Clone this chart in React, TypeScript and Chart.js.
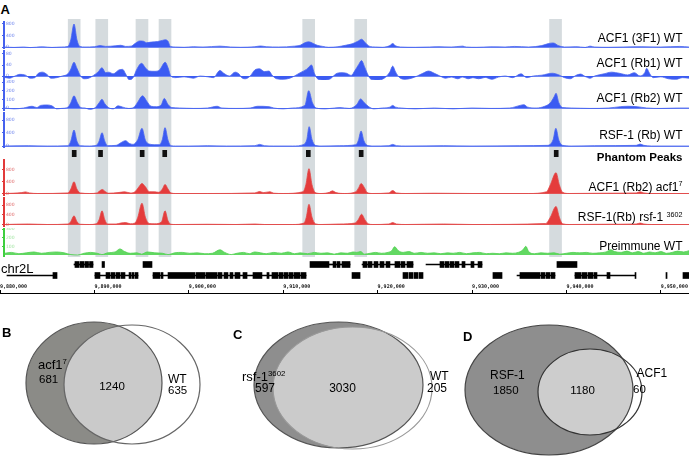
import React, { useEffect, useRef } from "react";
import { Chart, registerables } from "chart.js";
Chart.register(...registerables);

// ---------------- data ----------------
// genomic positions are in kb after 9,880,000 (chr2L)
const AXIS_TICKS_KB = [0, 10, 20, 30, 40, 50, 60, 70];
const AXIS_TICK_LABELS = ["9,880,000", "9,890,000", "9,900,000", "9,910,000", "9,920,000", "9,930,000", "9,940,000", "9,950,000"];
const HIGHLIGHT_BANDS_KB = [7.86, 10.78, 15.04, 17.48, 32.7, 38.21, 58.85];
const PHANTOM_PEAKS_KB = [7.86, 10.65, 15.06, 17.45, 32.66, 38.26, 58.92];

const ACF1_3F1_WT = [[0.5,0],[1.5,-15],[2.5,0],[3.2,-20],[4.5,5],[5.5,-15],[6.5,0],[7.2,20],[7.5,250],[7.84,800],[8.15,250],[8.45,20],[9.0,0],[10.0,10],[10.6,50],[11.2,20],[12.2,40],[12.8,60],[13.3,20],[13.9,30],[14.3,120],[14.8,210],[15.2,200],[15.5,150],[16.0,170],[16.7,190],[17.2,230],[17.5,250],[17.8,200],[18.05,20],[18.6,0],[19.5,-10],[20.5,10],[21.5,0],[23.3,30],[24.4,0],[25.5,-10],[27.0,10],[27.6,35],[28.2,10],[29.5,0],[31.2,30],[31.8,60],[32.3,150],[32.7,180],[33.2,120],[33.6,60],[34.2,20],[34.8,-10],[35.8,10],[36.6,60],[37.3,110],[37.9,200],[38.3,270],[38.7,150],[39.1,30],[39.8,0],[40.5,-10],[41.3,50],[41.6,120],[41.9,40],[42.4,0],[44.0,-10],[45.5,0],[46.5,10],[47.8,0],[49.0,30],[49.4,0],[50.5,-10],[52.0,5],[53.5,0],[54.5,20],[56.0,0],[57.4,50],[58.1,120],[58.6,140],[59.2,40],[59.8,0],[61.0,10],[62.0,-15],[62.5,30],[63.0,0],[64.5,-10],[66.0,0],[68.0,10],[70.0,0],[72.0,20],[73,0]];
const ACF1_RB1_WT = [[0.5,-5],[1.0,-8],[1.6,0],[2.1,6],[2.7,3],[3.2,-8],[3.7,-6],[4.0,8],[4.5,14],[5.0,5],[5.4,-8],[6.0,-6],[6.6,0],[7.2,8],[7.5,25],[7.84,50],[8.15,28],[8.5,2],[8.9,-10],[9.4,-8],[9.9,2],[10.4,15],[10.8,30],[11.2,12],[11.5,14],[12.0,8],[12.6,22],[13.0,24],[13.3,8],[13.7,-14],[14.1,-6],[14.5,25],[15.0,46],[15.4,30],[15.8,18],[16.4,17],[16.9,22],[17.5,50],[17.8,30],[18.1,0],[18.6,-6],[19.5,-3],[20.5,-8],[21.2,0],[22.0,-3],[22.6,-6],[23.3,20],[23.7,10],[24.3,0],[24.9,14],[25.3,8],[25.6,-6],[26.0,-10],[26.5,0],[27.0,22],[27.5,26],[28.0,16],[28.5,18],[28.8,4],[29.3,-10],[30.0,-12],[30.7,-8],[31.2,0],[31.8,12],[32.5,25],[33.0,40],[33.3,10],[33.7,-12],[34.3,-15],[35.0,-10],[35.6,8],[36.1,12],[36.7,10],[37.2,2],[37.6,20],[38.0,42],[38.3,56],[38.6,35],[38.9,10],[39.3,-12],[40.0,-15],[40.7,-8],[41.3,15],[41.6,36],[41.9,15],[42.3,-5],[42.9,-12],[43.6,-8],[44.2,0],[44.8,10],[45.4,18],[46.0,10],[46.6,0],[47.2,-8],[47.8,-4],[48.5,-10],[49.0,-4],[49.6,-10],[50.1,-6],[50.7,-10],[51.4,-5],[52.1,-12],[52.8,-4],[53.5,0],[54.3,-6],[55.2,8],[55.8,-6],[56.5,0],[57.4,3],[58.5,10],[59.2,4],[59.8,-6],[60.4,-10],[61.0,2],[61.5,7],[62.0,-2],[62.5,-8],[63.0,0],[64.0,8],[64.8,14],[65.6,10],[66.5,4],[67.2,12],[67.8,0],[68.3,12],[68.5,28],[68.8,10],[69.2,-6],[70.0,-3],[70.8,-10],[71.6,-12],[72.3,-6],[73,-8]];
const ACF1_RB2_WT = [[0.5,0],[1.5,-10],[2.5,0],[3.4,20],[3.9,5],[4.3,30],[5.0,35],[5.5,25],[6.0,-10],[6.5,-5],[7.2,10],[7.5,60],[7.84,140],[8.2,60],[8.5,10],[9.0,0],[9.5,-15],[10.1,5],[10.5,60],[10.8,100],[11.1,50],[11.5,5],[12.0,-10],[12.5,25],[13.0,10],[13.6,-5],[14.2,10],[14.6,70],[15.1,140],[15.6,70],[16.0,20],[16.6,15],[17.1,40],[17.4,110],[17.8,40],[18.2,5],[19.0,0],[20.5,-5],[22.0,0],[23.0,20],[23.5,0],[25.0,-5],[26.5,0],[27.3,20],[28.5,15],[29.0,0],[30.0,-10],[31.0,0],[32.3,30],[32.7,200],[33.1,60],[33.5,0],[34.5,-10],[36.0,5],[37.0,-5],[37.8,40],[38.2,105],[38.6,60],[39.0,20],[39.6,-10],[40.5,0],[41.3,10],[41.6,30],[41.9,10],[42.5,0],[44.0,-10],[46.0,0],[48.0,-10],[50.0,0],[52.0,-5],[54.0,0],[55.1,30],[55.5,38],[55.9,10],[56.8,0],[57.7,20],[58.3,60],[58.7,130],[58.9,170],[59.2,60],[59.6,5],[60.5,0],[62.5,-5],[64.5,0],[65.7,15],[66.5,20],[67.5,15],[68.5,0],[70.0,-5],[72.0,0],[73,0]];
const RSF1_RB_WT = [[0.5,0],[3,10],[5,0],[7.2,10],[7.5,150],[7.84,490],[8.15,150],[8.5,10],[9.5,0],[10.2,20],[10.5,150],[10.81,410],[11.1,150],[11.4,10],[12.3,20],[12.8,100],[13.3,165],[13.7,80],[14.1,50],[14.6,200],[15.04,545],[15.4,180],[15.8,60],[16.4,40],[16.9,40],[17.2,200],[17.48,565],[17.8,180],[18.1,10],[18.6,0],[20,0],[22,10],[24,0],[27.0,10],[27.5,50],[28.0,10],[29,0],[31,0],[32.2,50],[32.5,200],[32.75,595],[33.05,200],[33.4,20],[34,0],[36,10],[37.7,40],[37.95,160],[38.25,460],[38.55,160],[38.9,20],[39.5,0],[41.2,10],[41.6,50],[42.0,10],[43,0],[47,10],[50,0],[55,10],[58,20],[58.6,200],[58.88,545],[59.2,180],[59.6,20],[60.5,0],[63,10],[67.4,20],[67.8,60],[68.2,20],[69,0],[73,0]];
const ACF1_RB2_ACF1 = [[0.5,0],[2.3,30],[2.7,55],[3.1,20],[4,0],[7.2,20],[7.5,150],[7.84,400],[8.15,150],[8.5,20],[9.5,0],[10.3,20],[10.6,100],[10.85,137],[11.1,80],[11.5,10],[12.5,30],[13.2,57],[13.8,20],[14.3,60],[14.7,220],[15.04,340],[15.4,230],[15.8,60],[16.4,57],[16.8,40],[17.2,150],[17.48,310],[17.8,150],[18.1,20],[18.6,0],[22,0],[27.0,20],[27.5,68],[27.9,30],[28.6,60],[29.0,10],[30,0],[32.1,60],[32.4,300],[32.73,845],[33.05,300],[33.4,30],[34,0],[34.9,40],[35.2,90],[35.6,30],[36.5,0],[37.7,60],[38.0,200],[38.25,340],[38.6,200],[38.9,30],[39.5,0],[41.2,20],[41.6,100],[42.0,20],[43,0],[46,10],[50,0],[56,0],[57.9,60],[58.3,300],[58.9,710],[59.25,300],[59.6,40],[60.3,0],[64,10],[67.4,20],[67.8,60],[68.2,20],[69,0],[73,0]];
const RSF1_RB_RSF1 = [[0.5,0],[3,20],[5,0],[7.2,20],[7.5,120],[7.84,357],[8.15,120],[8.5,10],[9.5,0],[10.2,30],[10.5,200],[10.81,560],[11.1,200],[11.4,20],[12.3,20],[12.8,60],[13.3,80],[13.8,30],[14.3,60],[14.6,300],[15.04,875],[15.4,300],[15.8,40],[16.4,30],[17.1,100],[17.48,560],[17.8,150],[18.1,10],[18.6,0],[22,10],[25,0],[27,20],[28,0],[31,0],[32.2,60],[32.45,300],[32.73,830],[33.05,300],[33.4,30],[34,0],[36,20],[37.6,60],[37.95,200],[38.3,420],[38.65,200],[39.0,30],[39.5,0],[41.2,20],[41.6,80],[42.0,20],[43,0],[47,20],[50,0],[57.8,40],[58.3,300],[58.9,740],[59.25,300],[59.6,30],[60.3,0],[64,10],[67.4,20],[67.8,60],[68.2,20],[69,0],[73,0]];
const PREIMMUNE_WT = [[0.5,20],[1.2,30],[2.0,15],[2.8,25],[3.6,35],[4.4,20],[5.2,30],[6.0,35],[6.8,25],[7.5,5],[8.2,0],[8.9,20],[9.6,30],[10.3,20],[10.8,5],[11.4,25],[12.2,35],[12.7,70],[13.2,40],[13.8,20],[14.5,25],[15.0,10],[15.6,35],[16.4,25],[17.2,20],[17.8,5],[18.5,25],[19.3,30],[20.1,20],[20.9,25],[21.7,15],[22.5,20],[23.3,60],[23.8,30],[24.5,5],[25.1,20],[25.8,30],[26.4,15],[27.0,35],[27.6,25],[28.2,15],[29.0,30],[29.8,20],[30.5,35],[31.2,15],[31.8,25],[32.6,15],[33.3,30],[34.0,20],[34.7,25],[35.4,10],[36.1,25],[36.8,20],[37.4,35],[37.8,30],[38.2,40],[38.6,10],[39.2,20],[39.8,30],[40.4,20],[41.1,30],[41.5,50],[41.8,95],[42.2,50],[42.7,30],[43.3,40],[43.9,20],[44.6,30],[45.3,20],[46.0,25],[46.7,15],[47.4,25],[48.0,20],[48.7,30],[49.4,15],[50.1,25],[50.8,30],[51.5,15],[52.2,20],[52.9,15],[53.6,25],[54.3,20],[54.9,30],[55.4,60],[55.7,100],[56.0,40],[56.6,15],[57.3,25],[58.0,20],[58.7,25],[59.3,10],[60.0,20],[60.7,30],[61.4,25],[62.1,30],[62.8,20],[63.5,25],[64.2,35],[64.7,60],[65.1,40],[65.8,30],[66.4,45],[67.0,25],[67.6,40],[68.2,20],[68.8,35],[69.4,25],[70.0,40],[70.6,20],[71.2,30],[71.8,45],[72.4,35],[73,50]];

const GENE_ROW1_EXONS = [[7.94,8.37],[8.47,8.9],[9.0,9.38],[9.48,9.85],[10.81,11.07],[15.15,16.1],[32.84,34.85],[35.28,35.59],[35.7,36.02],[36.23,37.08],[38.45,38.88],[38.98,39.41],[39.62,40.04],[40.25,40.68],[40.89,41.31],[41.84,42.37],[42.48,42.9],[43.11,43.75],[46.61,47.03],[47.14,47.56],[47.67,48.09],[48.2,48.62],[48.94,49.26],[49.89,50.21],[50.64,51.06],[59.0,61.12]];
const GENE_ROW1_INTRONS = [[7.84,9.85],[34.85,37.08],[38.35,43.75],[45.13,51.06]];
const GENE_ROW2_EXONS = [[5.61,6.04],[10.06,10.59],[11.23,11.65],[11.76,12.18],[12.29,12.71],[12.82,13.24],[13.67,13.88],[13.98,14.19],[14.3,14.62],[16.21,16.95],[17.06,17.27],[17.8,20.65],[20.76,21.72],[21.82,22.99],[23.09,23.52],[23.73,24.15],[24.36,24.68],[24.89,25.42],[25.74,26.17],[26.8,27.75],[28.28,28.5],[28.81,29.45],[29.56,29.98],[30.08,30.51],[30.61,31.04],[31.14,31.78],[31.89,32.42],[37.29,38.14],[42.69,43.22],[43.33,43.75],[43.86,44.28],[44.39,44.81],[52.22,53.18],[55.08,57.2],[57.31,57.73],[57.84,58.26],[58.37,58.79],[60.91,61.55],[61.65,62.18],[62.29,62.82],[62.92,63.24],[64.3,64.62],[67.27,67.37],[70.55,70.66],[72.35,72.99]];
const GENE_ROW2_INTRONS = [[0.74,5.61],[10.06,14.62],[16.21,32.42],[54.77,58.79],[60.91,67.27]];

const VENN_B_COUNTS = [681, 1240, 635];
const VENN_C_COUNTS = [597, 3030, 205];
const VENN_D_COUNTS = [1850, 1180, 60];

// ---------------- layout / style ----------------
const W = 689;
const H = 456;
const PX_PER_KB = 9.44;
const X_MAX = W / PX_PER_KB;
const AXIS_W = 4;
const SANS = '"Liberation Sans", Arial, Helvetica, sans-serif';

const BLUE = { fill: "#3b5bf2", line: "#4a66f0", base: "#7088f2", axis: "#4661ee", tick: "#6f85ee" };
const RED = { fill: "#e43c3c", line: "#e24848", base: "#e26a6a", axis: "#e23a3a", tick: "#e06a6a" };
const GREEN = { fill: "#62d862", line: "#4fcf4f", base: "#6ad66a", axis: "#3fcf3f", tick: "#a5e5a5" };

const TRACKS = [
  { data: ACF1_3F1_WT, col: BLUE, top: 21, h: 28, zero: 47, refY: 24, ref: 800, ticks: [0, 400, 800] },
  { data: ACF1_RB1_WT, col: BLUE, top: 50, h: 30, zero: 76, refY: 54, ref: 80, ticks: [0, 40, 80] },
  { data: ACF1_RB2_WT, col: BLUE, top: 80, h: 31, zero: 108, refY: 82, ref: 300, ticks: [0, 100, 200, 300] },
  { data: RSF1_RB_WT, col: BLUE, top: 112, h: 36, zero: 146, refY: 120, ref: 800, ticks: [0, 400, 800] },
  { data: ACF1_RB2_ACF1, col: RED, top: 159, h: 37, zero: 193.5, refY: 170, ref: 800, ticks: [0, 400, 800] },
  { data: RSF1_RB_RSF1, col: RED, top: 197, h: 30, zero: 224.5, refY: 205, ref: 800, ticks: [0, 400, 800] },
  { data: PREIMMUNE_WT, col: GREEN, top: 228, h: 29, zero: 255, refY: 229, ref: 300, ticks: [100, 200, 300] },
];

const baseOptions = {
  responsive: false,
  animation: false as const,
  events: [] as any[],
  layout: { padding: 0 },
  plugins: { legend: { display: false }, tooltip: { enabled: false } },
};

function trackConfig(t: any) {
  const upp = t.ref / (t.zero - t.refY);
  const bottom = t.top + t.h;
  return {
    type: "line",
    data: {
      datasets: [
        {
          data: t.data.map(([x, y]: number[]) => ({ x, y })),
          borderColor: t.col.line,
          backgroundColor: t.col.fill,
          fill: "origin",
          borderWidth: 0.8,
          pointRadius: 0,
          cubicInterpolationMode: "monotone",
        },
      ],
    },
    options: {
      ...baseOptions,
      scales: {
        x: { type: "linear", display: false, min: AXIS_W / PX_PER_KB, max: X_MAX },
        y: {
          type: "linear",
          position: "left",
          min: -(bottom - t.zero) * upp,
          max: (t.zero - t.top) * upp,
          afterBuildTicks: (a: any) => {
            a.ticks = t.ticks.map((v: number) => ({ value: v }));
          },
          afterFit: (a: any) => {
            a.width = AXIS_W;
            a.paddingTop = 0;
            a.paddingBottom = 0;
          },
          border: { display: true, color: t.col.axis, width: 2 },
          grid: {
            color: (c: any) => (c.tick && c.tick.value === 0 ? t.col.base : "rgba(0,0,0,0)"),
            tickColor: t.col.axis,
            tickLength: 2,
            lineWidth: 1,
          },
          ticks: {
            mirror: true,
            padding: 2,
            autoSkip: false,
            color: t.col.tick,
            font: { size: 4.5, family: "DejaVu Sans" },
          },
        },
      },
    },
  };
}

function bandConfig(centers: number[], thickness: number, color: string) {
  return {
    type: "bar",
    data: {
      datasets: [
        {
          data: centers.map((x) => ({ x, y: 1 })),
          backgroundColor: color,
          barThickness: thickness,
          borderWidth: 0,
          grouped: false,
        },
      ],
    },
    options: {
      ...baseOptions,
      scales: {
        x: { type: "linear", display: false, min: 0, max: X_MAX, offset: false },
        y: { type: "linear", display: false, min: 0, max: 1 },
      },
    },
  };
}

function geneConfig() {
  const rows = (list: number[][], r: string) => list.map(([a, b]) => ({ x: [a, b], y: r }));
  return {
    type: "bar",
    data: {
      labels: ["r1", "r2"],
      datasets: [
        { data: [...rows(GENE_ROW1_INTRONS, "r1"), ...rows(GENE_ROW2_INTRONS, "r2")], backgroundColor: "#000", barThickness: 1, grouped: false, borderWidth: 0 },
        { data: [...rows(GENE_ROW1_EXONS, "r1"), ...rows(GENE_ROW2_EXONS, "r2")], backgroundColor: "#000", barThickness: 6, grouped: false, borderWidth: 0 },
      ],
    },
    options: {
      ...baseOptions,
      indexAxis: "y",
      scales: {
        x: { type: "linear", display: false, min: 0, max: X_MAX, offset: false },
        y: { type: "category", display: false, offset: true },
      },
    },
  };
}

function axisConfig() {
  return {
    type: "line",
    data: { datasets: [] },
    options: {
      ...baseOptions,
      scales: {
        x: {
          type: "linear",
          position: "top",
          min: 0,
          max: X_MAX,
          offset: false,
          afterBuildTicks: (a: any) => {
            a.ticks = AXIS_TICKS_KB.map((v) => ({ value: v }));
          },
          afterFit: (a: any) => {
            a.height = 11;
            a.paddingLeft = 0;
            a.paddingRight = 0;
          },
          border: { display: true, color: "#000", width: 1 },
          grid: { drawOnChartArea: false, tickLength: 3, tickColor: "#000" },
          ticks: {
            align: "start",
            padding: 0,
            autoSkip: false,
            maxRotation: 0,
            color: "#111",
            font: { size: 5, family: "DejaVu Sans Mono", weight: "bold" },
            callback: (_v: any, i: number) => AXIS_TICK_LABELS[i],
          },
        },
        y: { display: false, min: 0, max: 1 },
      },
    },
  };
}

// Venn ellipses: [cx, cy, rx, ry] in panel units
const VENNS = [
  { a: [94, 383, 68, 61], b: [132, 384.5, 68, 59.5], dark: "#8b8b87", light: "#cacaca", sa: "#555", sb: "#666" },
  { a: [338.5, 385, 84.5, 63], b: [352.5, 388, 79.5, 61], dark: "#8e8e8e", light: "#cbcbcb", sa: "#555", sb: "#999" },
  { a: [549, 390, 84, 65], b: [590, 392, 52, 43], dark: "#8e8e8e", light: "#cdcdcd", sa: "#444", sb: "#333" },
];

const vennPlugin = {
  id: "venn",
  beforeDatasetsDraw(chart: any) {
    const { ctx } = chart;
    const sx = chart.scales.x;
    const sy = chart.scales.y;
    const path = (e: number[]) => {
      const cx = sx.getPixelForValue(e[0]);
      const cy = sy.getPixelForValue(e[1]);
      const rx = Math.abs(sx.getPixelForValue(e[0] + e[2]) - cx);
      const ry = Math.abs(sy.getPixelForValue(e[1] + e[3]) - cy);
      ctx.beginPath();
      ctx.ellipse(cx, cy, rx, ry, 0, 0, Math.PI * 2);
    };
    VENNS.forEach((v) => {
      ctx.save();
      path(v.b);
      ctx.fillStyle = "#fff";
      ctx.fill();
      path(v.a);
      ctx.fillStyle = v.dark;
      ctx.fill();
      ctx.save();
      path(v.a);
      ctx.clip();
      path(v.b);
      ctx.fillStyle = v.light;
      ctx.fill();
      ctx.restore();
      ctx.lineWidth = 1.2;
      path(v.a);
      ctx.strokeStyle = v.sa;
      ctx.stroke();
      path(v.b);
      ctx.strokeStyle = v.sb;
      ctx.stroke();
      ctx.restore();
    });
  },
};

function vennConfig() {
  return {
    type: "scatter",
    data: { datasets: [{ data: [] }] },
    options: {
      ...baseOptions,
      scales: {
        x: { type: "linear", display: false, min: 0, max: W },
        y: { type: "linear", display: false, min: 300, max: H, reverse: true },
      },
    },
    plugins: [vennPlugin],
  };
}

function ChartCanvas({ left, top, width, height, make }: { left: number; top: number; width: number; height: number; make: () => any }) {
  const ref = useRef<HTMLCanvasElement>(null);
  useEffect(() => {
    const chart = new Chart(ref.current as HTMLCanvasElement, make());
    return () => chart.destroy();
  }, []);
  return <canvas ref={ref} width={width} height={height} style={{ position: "absolute", left, top, width, height }} />;
}

function Txt({ x, y, size, bold, align = "left", children }: any) {
  const style: any = {
    position: "absolute",
    top: y - 0.49 * size,
    fontSize: size,
    lineHeight: `${size}px`,
    fontWeight: bold ? 700 : 400,
    whiteSpace: "nowrap",
    color: "#000",
    fontFamily: SANS,
  };
  if (align === "left") style.left = x;
  else if (align === "right") style.right = W - x;
  else {
    style.left = x;
    style.transform = "translateX(-50%)";
  }
  return <div style={style}>{children}</div>;
}

const Sup = ({ children }: any) => (
  <span style={{ fontSize: "0.6em", position: "relative", top: "-0.6em" }}>{children}</span>
);

export default function App() {
  return (
    <div style={{ position: "absolute", left: 0, top: 0, width: W, height: H, background: "#fff", overflow: "hidden", fontFamily: SANS }}>
      <ChartCanvas left={0} top={19} width={W} height={238} make={() => bandConfig(HIGHLIGHT_BANDS_KB, 12, "#d5dbde")} />
      {TRACKS.map((t, i) => (
        <ChartCanvas key={i} left={0} top={t.top} width={W} height={t.h} make={() => trackConfig(t)} />
      ))}
      <ChartCanvas left={0} top={150} width={W} height={7} make={() => bandConfig(PHANTOM_PEAKS_KB, 4, "#111")} />
      <ChartCanvas left={0} top={259} width={W} height={22} make={geneConfig} />
      <ChartCanvas left={0} top={282} width={W} height={14} make={axisConfig} />
      <ChartCanvas left={0} top={300} width={W} height={156} make={vennConfig} />

      <Txt x={0.5} y={9} size={13} bold>A</Txt>
      <Txt x={682.5} y={38} size={12} align="right">ACF1 (3F1) WT</Txt>
      <Txt x={682.5} y={63} size={12} align="right">ACF1 (Rb1) WT</Txt>
      <Txt x={682.5} y={98} size={12} align="right">ACF1 (Rb2) WT</Txt>
      <Txt x={682.5} y={135} size={12} align="right">RSF-1 (Rb) WT</Txt>
      <Txt x={682.5} y={158} size={11.5} bold align="right">Phantom Peaks</Txt>
      <Txt x={682.5} y={186.5} size={12} align="right">ACF1 (Rb2) acf1<Sup>7</Sup></Txt>
      <Txt x={682.5} y={217} size={12} align="right">RSF-1(Rb) rsf-1 <Sup>3602</Sup></Txt>
      <Txt x={682.5} y={245.5} size={12} align="right">Preimmune WT</Txt>
      <Txt x={1} y={268} size={13}>chr2L</Txt>

      <Txt x={2} y={332.5} size={13} bold>B</Txt>
      <Txt x={38} y={364} size={13}>acf1<Sup>7</Sup></Txt>
      <Txt x={39} y={379.5} size={11.5}>{VENN_B_COUNTS[0]}</Txt>
      <Txt x={112} y={387} size={11.5} align="center">{VENN_B_COUNTS[1]}</Txt>
      <Txt x={168} y={378.5} size={12}>WT</Txt>
      <Txt x={168} y={391} size={11.5}>{VENN_B_COUNTS[2]}</Txt>

      <Txt x={233} y={334} size={13} bold>C</Txt>
      <Txt x={242} y={376} size={13}>rsf-1<Sup>3602</Sup></Txt>
      <Txt x={255} y={388} size={12}>{VENN_C_COUNTS[0]}</Txt>
      <Txt x={342.5} y={388} size={12} align="center">{VENN_C_COUNTS[1]}</Txt>
      <Txt x={430} y={376} size={12}>WT</Txt>
      <Txt x={427} y={388} size={12}>{VENN_C_COUNTS[2]}</Txt>

      <Txt x={463} y={336} size={13} bold>D</Txt>
      <Txt x={490} y={374.5} size={12}>RSF-1</Txt>
      <Txt x={493} y={391} size={11.5}>{VENN_D_COUNTS[0]}</Txt>
      <Txt x={582.5} y={391} size={11.5} align="center">{VENN_D_COUNTS[1]}</Txt>
      <Txt x={636.5} y={372.5} size={12}>ACF1</Txt>
      <Txt x={633} y={390} size={11.5}>{VENN_D_COUNTS[2]}</Txt>
    </div>
  );
}
